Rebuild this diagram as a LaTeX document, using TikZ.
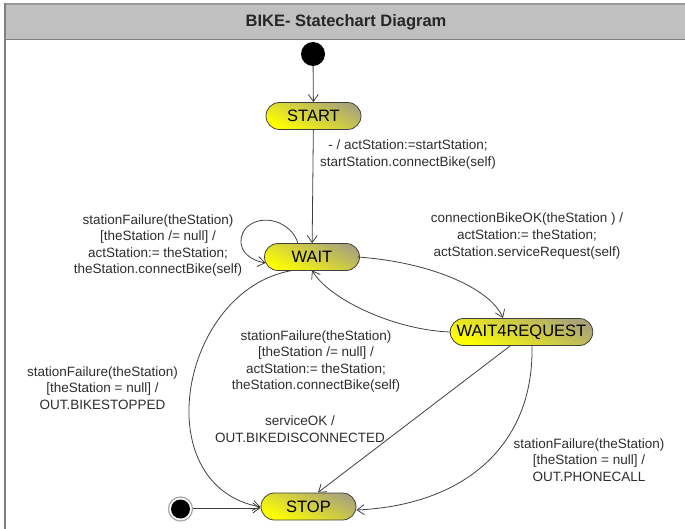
\documentclass[tikz,border=0pt]{standalone}
\usepackage{fontspec}
\setmainfont{Liberation Sans}
\usetikzlibrary{arrows.meta}
\definecolor{hdrfill}{RGB}{192,192,192}
\definecolor{hdrline}{RGB}{128,128,128}
\definecolor{edgecol}{RGB}{64,64,64}
\definecolor{txtcol}{RGB}{45,45,45}
\definecolor{shadetop}{RGB}{170,165,120}
\tikzset{
  statebox/.style={draw=edgecol, line width=0.8pt, rectangle, rounded corners=13.5pt,
    minimum width=95pt, minimum height=27pt, inner xsep=6.5pt,
    top color=shadetop, middle color=yellow, bottom color=yellow, shading angle=-25,
    font=\fontsize{16.5}{19}\selectfont, text=black},
  trans/.style={draw=edgecol, line width=0.8pt, -{Straight Barb[length=7pt,width=10pt]}},
  lbl/.style={align=center, text=txtcol, inner sep=0pt, font=\fontsize{13.5}{16.6}\selectfont},
}
\begin{document}
\begin{tikzpicture}[x=1pt, y=-1pt]
  \useasboundingbox (0,0) rectangle (685,529);
  \clip (0,0) rectangle (685,529);
  % frame with title bar
  \fill[hdrfill] (5,4) rectangle (700,39.5);
  \draw[hdrline!80!white, line width=1.5pt] (5,4) -- (700,4);
  \draw[hdrline, line width=1.6pt] (5,39.5) -- (700,39.5);
  \draw[hdrline, line width=2pt] (5,3.3) -- (5,540);
  \node[font=\fontsize{16.5}{19}\selectfont\bfseries, text=black!85] (title) at (346,22) {BIKE- Statechart Diagram};

  % pseudo states
  \node[circle, fill=black, minimum size=24pt, inner sep=0pt] (init) at (313,54) {};
  \node[circle, fill=white, draw=hdrline!70!white, line width=1.2pt, minimum size=24pt, inner sep=0pt] (fin) at (180.5,509) {};
  \node[circle, fill=black, minimum size=19pt, inner sep=0pt] (finin) at (fin) {};

  % states
  \node[statebox] (start) at (313.5,116) {START};
  \node[statebox] (wait) at (312,257) {WAIT};
  \node[statebox] (w4r) at (521.5,332) {WAIT4REQUEST};
  \node[statebox] (stop) at (308.5,506.5) {STOP};

  % transitions
  \draw[trans] (init) -- (start);
  \draw[trans] (start) -- (wait);
  % self transition on WAIT
  \coordinate (loopS) at (298,243.5);
  \coordinate (loopE) at (265.5,263);
  \draw[trans] (loopS) .. controls (292,222) and (262,212) .. (246,228)
                       .. controls (236,240) and (240,258) .. (loopE);
  \coordinate (wr) at (357.5,257);
  \coordinate (w4rTop) at (503,318);
  \draw[trans] (wr) .. controls (430,262) and (490,288) .. (w4rTop);
  \coordinate (w4rL) at (450,332);
  \coordinate (waitB) at (312,270.5);
  \draw[trans] (w4rL) .. controls (395,330) and (330,300) .. (waitB);
  \coordinate (waitBL) at (292,270.5);
  \coordinate (stopL) at (260.5,507);
  \draw[trans] (waitBL) .. controls (180,290) and (145,485) .. (stopL);
  \coordinate (w4rB1) at (510,346);
  \coordinate (stopT) at (318,492.5);
  \draw[trans] (w4rB1) -- (stopT);
  \coordinate (w4rB2) at (532,346);
  \coordinate (stopR) at (356.5,510);
  \draw[trans] (w4rB2) .. controls (534,445) and (465,505) .. (stopR);
  \coordinate (finR) at (193,508);
  \draw[trans] (finR) -- (260.5,508) coordinate (stopL2);

  % transition labels
  \node[lbl] (l1) at (408,154.5) {- / actStation:=startStation;\\startStation.connectBike(self)};
  \node[lbl] (l2) at (158,245.5) {stationFailure(theStation)\\{}[theStation /= null] /\\actStation:= theStation;\\theStation.connectBike(self)};
  \node[lbl] (l3) at (527,236) {connectionBikeOK(theStation ) /\\actStation:= theStation;\\actStation.serviceRequest(self)};
  \node[lbl] (l4) at (316,361.5) {stationFailure(theStation)\\{}[theStation /= null] /\\actStation:= theStation;\\theStation.connectBike(self)};
  \node[lbl] (l5) at (300,429) {serviceOK /\\OUT.BIKEDISCONNECTED};
  \node[lbl] (l6) at (102.5,388) {stationFailure(theStation)\\{}[theStation = null] /\\OUT.BIKESTOPPED};
  \node[lbl] (l7) at (589,460) {stationFailure(theStation)\\{}[theStation = null] /\\OUT.PHONECALL};
\end{tikzpicture}
\end{document}
